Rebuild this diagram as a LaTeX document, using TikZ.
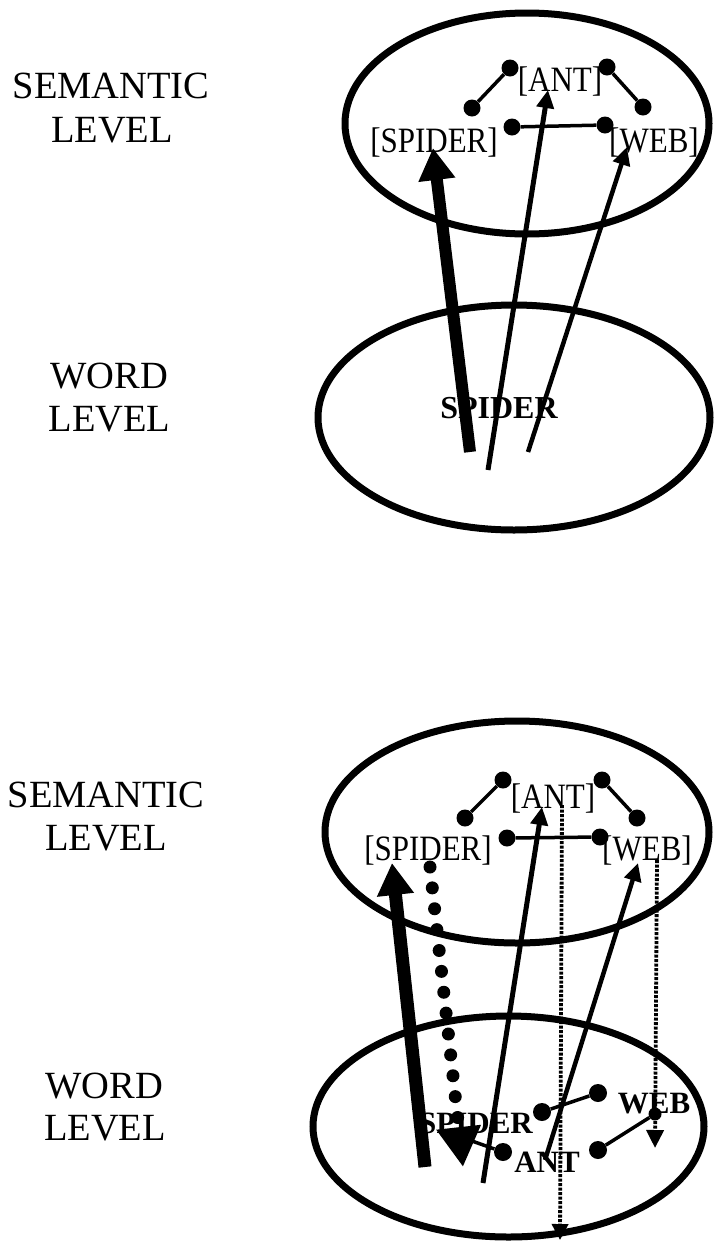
\documentclass[tikz,border=0pt]{standalone}
\usepackage{fontspec}
\usepackage{graphicx}
\setmainfont{Liberation Serif}
\usetikzlibrary{arrows.meta,shapes.geometric}
\newcommand{\vstretch}[1]{\scalebox{1}[1.15]{#1}}
\begin{document}
\begin{tikzpicture}[x=1pt,y=-1pt,
  lvl/.style={draw, ellipse, line width=7pt, inner sep=0pt},
  lab/.style={font=\fontsize{38.5}{44}\selectfont, inner sep=0pt, anchor=base},
  sem/.style={font=\fontsize{31}{31}\selectfont, inner sep=0pt, anchor=base},
  wrd/.style={font=\fontsize{31}{31}\selectfont\bfseries, inner sep=0pt, anchor=base},
  dot/.style={circle, fill, inner sep=0pt, minimum size=17pt},
  conn/.style={line width=3.5pt},
  thickarr/.style={line width=12pt, -{Triangle[length=32pt,width=35pt]}},
  midarr/.style={line width=5pt, -{Triangle[length=18pt,width=17pt]}},
  bigdots/.style={line width=13pt, line cap=round, dash pattern=on 0pt off 21pt, -{Triangle[length=40pt,width=42pt]}},
  dotline/.style={line width=3.8pt, dash pattern=on 3pt off 1.5pt, -{Triangle[length=16pt,width=16pt]}}
]
\useasboundingbox (0,0) rectangle (715,1248);

% ===== top diagram =====
\node[lab] (semA1) at (111,98) {SEMANTIC};
\node[lab] (semA2) at (112,142) {LEVEL};
\node[lab] (wrdA1) at (109,388) {WORD};
\node[lab] (wrdA2) at (109.5,431) {LEVEL};

\node[lvl, minimum width=364pt, minimum height=221pt] (semtop) at (527,123.5) {};
\node[lvl, minimum width=392pt, minimum height=225pt] (wordtop) at (514,417.5) {};

\node[sem] (antA) at (560,91) {\vstretch{[ANT]}};
\node[sem] (spiA) at (434,152) {\vstretch{[SPIDER]}};
\node[sem] (webA) at (654,152) {\vstretch{[WEB]}};
\node[wrd, font=\fontsize{32}{32}\selectfont\bfseries] (wspiA) at (499,418) {SPIDER};

\node[dot] (a1) at (510,68) {};
\node[dot] (a2) at (607,67) {};
\node[dot] (a3) at (472,108) {};
\node[dot] (a4) at (643,107) {};
\node[dot] (a5) at (512,127) {};
\node[dot] (a6) at (605,125) {};
\draw[conn] (a1) -- (a3);
\draw[conn] (a2) -- (a4);
\draw[conn] (a5) -- (a6);

\coordinate (sA0) at (470,452);
\coordinate (sA1) at (433,148);
\coordinate (nA0) at (488,470);
\coordinate (nA1) at (548,90);
\coordinate (wA0) at (528,452);
\coordinate (wA1) at (627,147);
\draw[thickarr] (sA0) -- (sA1);
\draw[midarr] (nA0) -- (nA1);
\draw[midarr, line width=4.5pt] (wA0) -- (wA1);

% ===== bottom diagram =====
\node[lab] (semB1) at (106,807) {SEMANTIC};
\node[lab] (semB2) at (106,850) {LEVEL};
\node[lab] (wrdB1) at (104,1098) {WORD};
\node[lab] (wrdB2) at (105,1140) {LEVEL};

\node[lvl, minimum width=384pt, minimum height=222pt] (sembot) at (517,832) {};
\node[lvl, minimum width=391pt, minimum height=221pt] (wordbot) at (508.5,1126.5) {};

\node[sem] (antB) at (553,808) {\vstretch{[ANT]}};
\node[sem] (spiB) at (428,860) {\vstretch{[SPIDER]}};
\node[sem] (webB) at (647,860) {\vstretch{[WEB]}};

\node[dot] (b1) at (503,780) {};
\node[dot] (b2) at (602,780) {};
\node[dot] (b3) at (465,818) {};
\node[dot] (b4) at (637,818) {};
\node[dot] (b5) at (507,838) {};
\node[dot] (b6) at (600,837) {};
\draw[conn] (b1) -- (b3);
\draw[conn] (b2) -- (b4);
\draw[conn] (b5) -- (b6);

\node[wrd] (wspiB) at (476,1133) {SPIDER};
\node[wrd] (wwebB) at (654,1113) {WEB};
\node[wrd] (wantB) at (547,1172) {ANT};

\node[dot, minimum size=18pt] (c1) at (542,1112) {};
\node[dot, minimum size=18pt] (c2) at (598,1093) {};
\node[dot, minimum size=18pt] (c3) at (503,1152) {};
\node[dot, minimum size=18pt] (c4) at (598,1150) {};
\node[dot, minimum size=13pt] (c5) at (655,1114) {};
\coordinate (c0) at (472,1141);
\draw[conn] (c1) -- (c2);
\draw[conn] (c0) -- (c3);
\draw[conn] (c4) -- (c5);

\coordinate (sB0) at (425,1167);
\coordinate (sB1) at (392,863);
\coordinate (dB0) at (430,867);
\coordinate (dB1) at (463,1167);
\coordinate (nB0) at (483,1183);
\coordinate (nB1) at (542,807);
\coordinate (wB0) at (545,1160);
\coordinate (wB1) at (638,863);
\coordinate (tB0) at (562,805);
\coordinate (tB1) at (560,1240);
\coordinate (uB0) at (657,860);
\coordinate (uB1) at (655,1148);
\draw[thickarr, line width=13pt] (sB0) -- (sB1);
\draw[bigdots] (dB0) -- (dB1);
\draw[midarr] (nB0) -- (nB1);
\draw[midarr, line width=4.5pt] (wB0) -- (wB1);
\draw[dotline] (tB0) -- (tB1);
\draw[dotline, -{Triangle[length=18pt,width=17pt]}] (uB0) -- (uB1);
\end{tikzpicture}
\end{document}
